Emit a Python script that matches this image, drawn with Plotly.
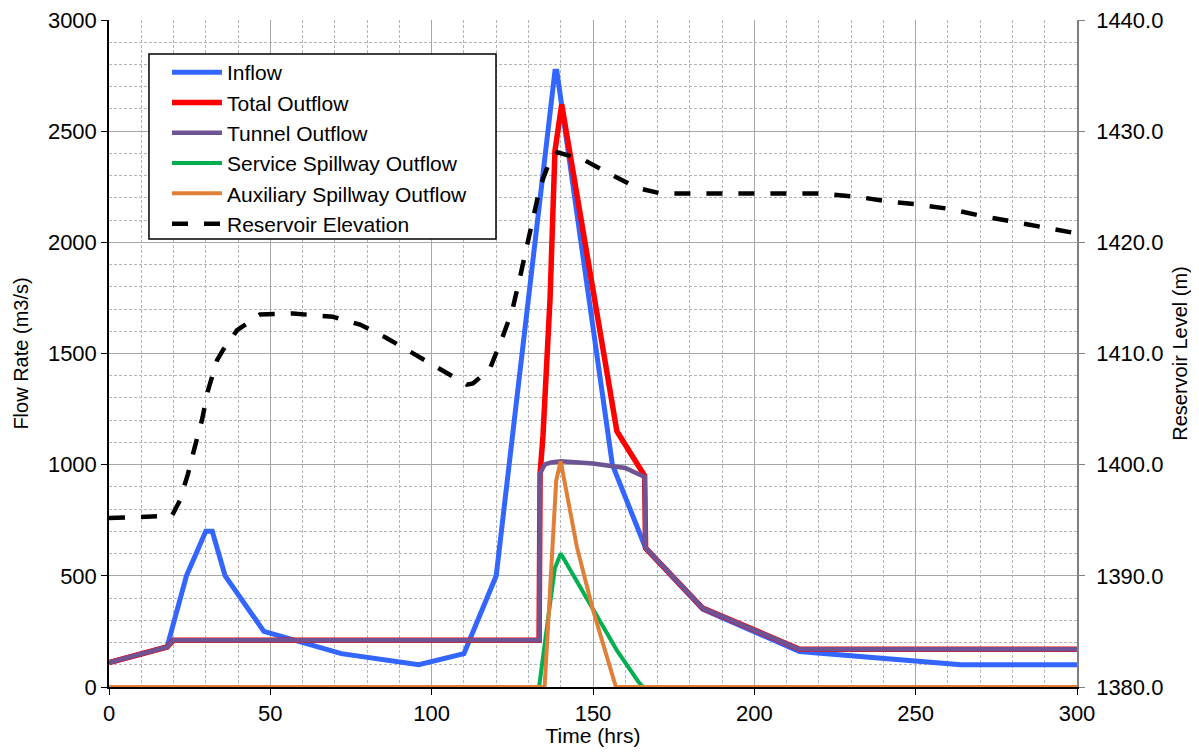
import plotly.graph_objects as go

# ---------------- data ----------------
t_inflow = [0, 18, 24, 30, 32, 36, 48, 72, 96, 110, 120, 138.2, 138.8, 156, 166.3, 184, 214, 264, 300]
q_inflow = [110, 180, 500, 700, 700, 500, 250, 150, 100, 150, 500, 2770, 2770, 1000, 625, 350, 160, 100, 100]

t_total = [0, 18, 20, 133.3, 133.6, 134.5, 136.7, 138.2, 140.3, 145.3, 151, 157.4, 166, 166.3, 184, 214, 300]
q_total = [110, 180, 210, 210, 960, 1130, 1750, 2410, 2620, 2190, 1680, 1150, 950, 625, 355, 170, 170]

t_tunnel = [0, 18, 20, 133.3, 133.6, 135, 137, 140, 150, 160, 166, 166.3, 184, 214, 300]
q_tunnel = [110, 180, 210, 210, 960, 1000, 1010, 1015, 1005, 985, 945, 625, 355, 170, 170]

t_service = [0, 133.3, 136, 138.2, 140, 150, 157.4, 164, 165.5, 300]
q_service = [0, 0, 300, 535, 600, 350, 165, 25, 0, 0]

t_aux = [0, 135, 138.6, 140, 145, 150, 157.1, 300]
q_aux = [0, 0, 930, 1015, 630, 346, 0, 0]

t_elev = [0, 19.5, 22, 24.5, 26.6, 28.8, 30.7, 33.5, 35.3, 39.7, 46.8, 57, 69.4, 77.8, 86,
          94.2, 102.6, 110.9, 112.8, 118, 122, 125, 127.4, 130, 132, 133.6, 136.7, 139,
          143.8, 146, 155, 163.6, 171, 220, 231.8, 241, 250.7, 260.6, 270, 279, 289, 300]
e_elev = [1395.2, 1395.4, 1396.8, 1399.2, 1401.6, 1404, 1406.7, 1409.4, 1410.3, 1412.1, 1413.5,
          1413.6, 1413.3, 1412.6, 1411.4, 1410, 1408.5, 1407.2, 1407.3, 1408.6, 1411.5, 1413.9,
          1416.9, 1420.2, 1422.9, 1425, 1427.4, 1428.1, 1427.7, 1427.6, 1426.2, 1424.9, 1424.4,
          1424.4, 1424.1, 1423.7, 1423.4, 1423, 1422.4, 1421.9, 1421.4, 1420.8]

x_ticks = [0, 50, 100, 150, 200, 250, 300]
y_ticks = [0, 500, 1000, 1500, 2000, 2500, 3000]
y2_ticks = [1380, 1390, 1400, 1410, 1420, 1430, 1440]

FONT = "Liberation Sans, Arial, sans-serif"

fig = go.Figure()
fig.add_trace(go.Scatter(x=t_inflow, y=q_inflow, name="Inflow", mode="lines",
                         line=dict(color="#3366FF", width=5)))
fig.add_trace(go.Scatter(x=t_total, y=q_total, name="Total Outflow", mode="lines",
                         line=dict(color="#FF0000", width=5.5)))
fig.add_trace(go.Scatter(x=t_tunnel, y=q_tunnel, name="Tunnel Outflow", mode="lines",
                         line=dict(color="#6E5494", width=4.5)))
fig.add_trace(go.Scatter(x=t_service, y=q_service, name="Service Spillway Outflow", mode="lines",
                         line=dict(color="#00B050", width=4)))
fig.add_trace(go.Scatter(x=t_aux, y=q_aux, name="Auxiliary Spillway Outflow", mode="lines",
                         line=dict(color="#E07F38", width=4)))
fig.add_trace(go.Scatter(x=t_elev, y=e_elev, name="Reservoir Elevation", mode="lines", yaxis="y2",
                         line=dict(color="black", width=4.5, dash="16px,16px")))

# legend frame (white box behind the legend entries)
fig.add_shape(type="rect", xref="paper", yref="paper", x0=0.0413, x1=0.3998, y0=0.6717, y1=0.949,
              fillcolor="white", line=dict(color="black", width=1.5), layer="above")

fig.update_layout(
    width=1183, height=739,
    margin=dict(l=101, r=114, t=12, b=60, autoexpand=False),
    paper_bgcolor="white", plot_bgcolor="white",
    font=dict(family=FONT, size=22, color="black"),
    showlegend=True,
    legend=dict(x=0.0599, y=0.952, xanchor="left", yanchor="top",
                bgcolor="rgba(0,0,0,0)", borderwidth=0,
                font=dict(size=21), itemwidth=50, tracegroupgap=0),
    xaxis=dict(range=[0, 300], tickvals=x_ticks, ticks="outside", ticklen=6, tickcolor="black",
               showline=True, linecolor="black", linewidth=1.5, zeroline=False,
               showgrid=True, gridcolor="#A6A6A6", gridwidth=1, ticklabeloverflow="allow",
               minor=dict(dtick=10, showgrid=True, gridcolor="#B4B4B4", griddash="3px,2px", gridwidth=1),
               title=dict(text="Time (hrs)", font=dict(size=21), standoff=15),
               tickfont=dict(size=22)),
    yaxis=dict(range=[0, 3000], tickvals=y_ticks, ticks="outside", ticklen=6, tickcolor="black",
               showline=True, linecolor="black", linewidth=1.5, zeroline=False,
               showgrid=True, gridcolor="#A6A6A6", gridwidth=1, ticklabeloverflow="allow",
               minor=dict(dtick=100, showgrid=True, gridcolor="#B4B4B4", griddash="3px,2px", gridwidth=1),
               title=dict(text="Flow Rate (m3/s)", font=dict(size=20), standoff=14),
               tickfont=dict(size=22)),
    yaxis2=dict(range=[1380, 1440], tickvals=y2_ticks, tickformat=".1f", overlaying="y", side="right",
                ticks="outside", ticklen=6, tickcolor="#808080", ticklabelstandoff=7,
                ticklabeloverflow="allow",
                showline=True, linecolor="#808080", linewidth=1.5, showgrid=False, zeroline=False,
                title=dict(text="Reservoir Level (m)", font=dict(size=20), standoff=19),
                tickfont=dict(size=22)),
)

fig.write_html("out.html")
